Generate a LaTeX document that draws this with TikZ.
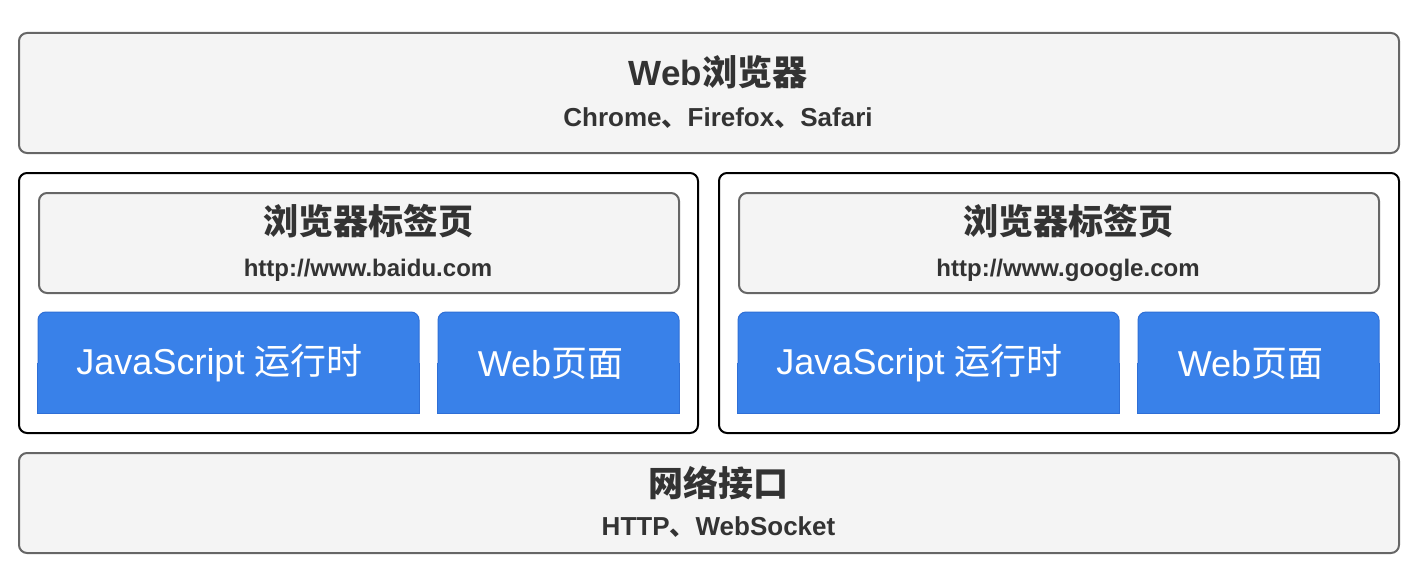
\documentclass[tikz,border=0pt]{standalone}
\usepackage{fontspec}
\setmainfont{Liberation Sans}
\newfontfamily\cjk{Noto Sans CJK SC}
\definecolor{boxfill}{HTML}{F4F4F4}
\definecolor{boxline}{HTML}{666666}
\definecolor{txt}{HTML}{333333}
\definecolor{blueF}{HTML}{3981E9}
\definecolor{blueD}{HTML}{2F6FD6}
\tikzset{
  graybox/.style={draw=boxline, line width=2pt, fill=boxfill, rounded corners=8pt, inner sep=0pt},
  framebox/.style={draw=black, line width=2pt, fill=white, rounded corners=8pt, inner sep=0pt},
  bluebox/.style={draw=blueD, line width=1pt, fill=blueF, rounded corners=8pt, inner sep=0pt},
  title/.style={font=\fontsize{35}{40}\selectfont\bfseries, text=txt, inner sep=0pt},
  sub/.style={font=\fontsize{24}{28}\selectfont\bfseries, text=txt, inner sep=0pt},
  bigsub/.style={font=\fontsize{26}{30}\selectfont\bfseries, text=txt, inner sep=0pt},
  bluetxt/.style={font=\fontsize{36}{40}\selectfont, text=white, inner sep=0pt},
}
\newcommand\blueblock[6]{% name, cx, width, text node name, text x, text
  \node[bluebox, minimum width=#3pt, minimum height=101pt] (#1) at (#2,362.5) {};
  \fill[blueF] (#1.west) rectangle (#1.south east);
  \draw[blueD, line width=1pt] (#1.west) |- (#1.south east) -- (#1.east);
  \node[bluetxt] (#4) at (#5,363.5) {#6};
}
\begin{document}
\begin{tikzpicture}[x=1pt,y=-1pt]
\useasboundingbox (0,0) rectangle (1420,578);
% top browser box
\node[graybox, minimum width=1380pt, minimum height=120pt] (browser) at (709,93) {};
\node[title] (browserT) at (718,72) {Web{\cjk 浏览器}};
\node[bigsub] (browserS) at (718,118) {Chrome{\cjk 、}Firefox{\cjk 、}Safari};
% containers
\node[framebox, minimum width=679pt, minimum height=260pt] (left) at (358.5,303) {};
\node[framebox, minimum width=680pt, minimum height=260pt] (right) at (1059,303) {};
% tabs
\node[graybox, minimum width=640pt, minimum height=100pt] (tabL) at (359,243) {};
\node[title] (tabLT) at (368,221) {\cjk 浏览器标签页};
\node[sub] (tabLS) at (368,270) {http://www.baidu.com};
\node[graybox, minimum width=640pt, minimum height=100pt] (tabR) at (1059,243) {};
\node[title] (tabRT) at (1068,221) {\cjk 浏览器标签页};
\node[sub] (tabRS) at (1068,270) {http://www.google.com};
% blue blocks
\blueblock{jsL}{228.5}{381}{jsLT}{219.5}{JavaScript {\cjk 运行时}}
\blueblock{webL}{558.5}{241}{webLT}{550.5}{Web{\cjk 页面}}
\blueblock{jsR}{928.5}{381}{jsRT}{919.5}{JavaScript {\cjk 运行时}}
\blueblock{webR}{1258.5}{241}{webRT}{1250.5}{Web{\cjk 页面}}
% bottom network box
\node[graybox, minimum width=1380pt, minimum height=100pt] (net) at (709,503) {};
\node[title] (netT) at (718.5,483) {\cjk 网络接口};
\node[bigsub] (netS) at (718.5,527) {HTTP{\cjk 、}WebSocket};
\end{tikzpicture}
\end{document}
